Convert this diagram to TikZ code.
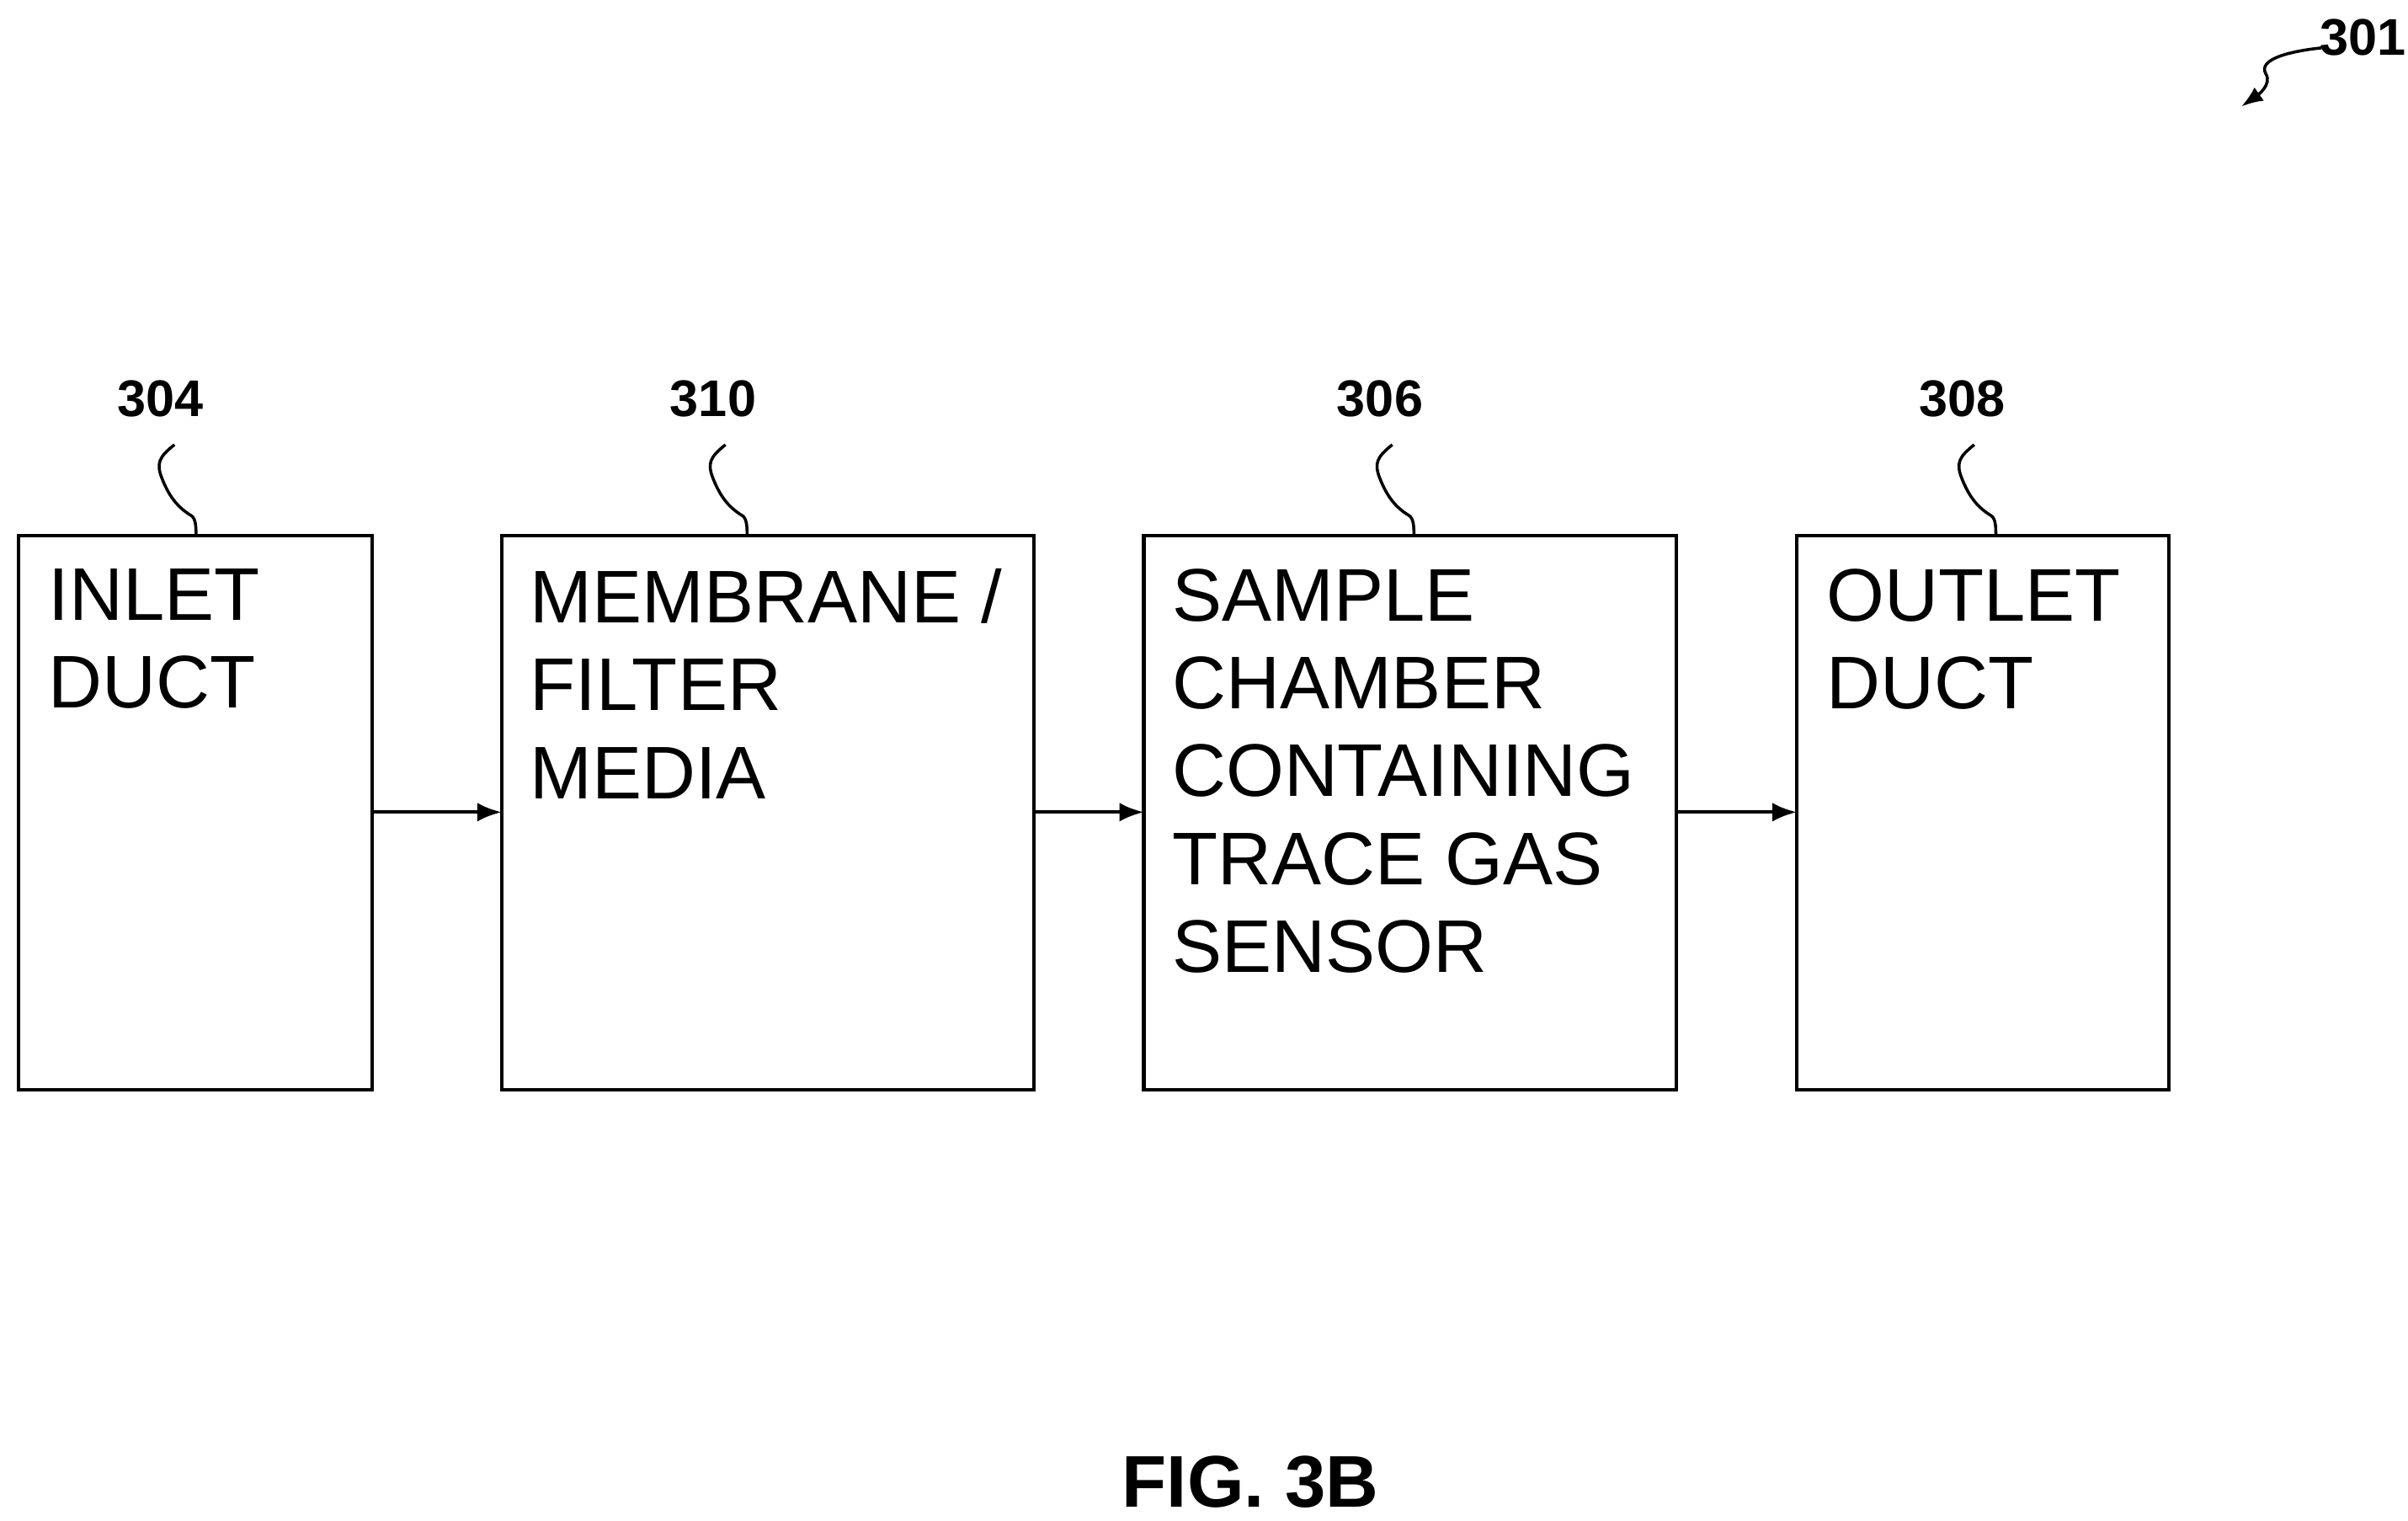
\documentclass[tikz,border=0pt]{standalone}
\usepackage{fontspec}
\setmainfont{Liberation Sans}
\usetikzlibrary{arrows.meta}
\begin{document}
\begin{tikzpicture}[x=0.02cm,y=-0.02cm,
  box/.style={draw,line width=1.3pt},
  txt/.style={anchor=north west,align=left,inner sep=0,font=\fontsize{27.5}{32.4}\selectfont},
  lab/.style={font=\fontsize{19}{22}\selectfont\bfseries,inner sep=0},
  arr/.style={-{Latex[length=9pt,width=7pt]},line width=1.3pt},
  sq/.style={line width=1.1pt}]
\useasboundingbox (0,0) rectangle (1560,985);
\draw[box] (12,347) rectangle (241,706); \node[inner sep=0,fit/.style={}] (b1) at (126.5,526.5) {};
\draw[box] (325,347) rectangle (670,706);
\draw[box] (741,347) rectangle (1086,706);
\draw[box] (1164,347) rectangle (1405,706);
\coordinate (b1e) at (241,526); \coordinate (b2w) at (325,526);
\coordinate (b2e) at (670,526); \coordinate (b3w) at (741,526);
\coordinate (b3e) at (1086,526); \coordinate (b4w) at (1164,526);
\node[txt] (t1) at (31,368) {INLET\\DUCT};
\node[txt] (t2) at (343,368) {MEMBRANE /\\FILTER\\MEDIA};
\node[txt] (t3) at (759,368) {SAMPLE\\CHAMBER\\CONTAINING\\TRACE GAS\\SENSOR};
\node[txt] (t4) at (1183,368) {OUTLET\\DUCT};
\draw[arr] (b1e) -- (b2w);
\draw[arr] (b2e) -- (b3w);
\draw[arr] (b3e) -- (b4w);
\foreach \n/\lx/\bx/\t in {l1/104/127/304,l2/462/484/310,l3/894/916/306,l4/1271/1293/308}{
  \node[lab] (\n) at (\lx,258) {\t};
  \coordinate (\n e) at (\bx,347);
  \draw[sq] ([shift={(-14,-59)}]\n e) .. controls +(-10,8) and +(-4,-10) .. ([shift={(-22,-37)}]\n e) .. controls +(4,10) and +(-10,-6) .. ([shift={(-3,-13)}]\n e) .. controls +(3,2) and +(0,-5) .. (\n e);
}
\node[lab] (l0) at (1531,24) {301};
\coordinate (a0) at (1452,69);
\draw[sq,-{Latex[length=8pt,width=6pt]}] (1504,31) .. controls (1485,33) and (1462,38) .. (1468,48) .. controls (1472,55) and (1462,62) .. (a0);
\node[font=\fontsize{27}{30}\selectfont\bfseries,inner sep=0] (fig) at (810,960) {FIG. 3B};
\end{tikzpicture}
\end{document}
